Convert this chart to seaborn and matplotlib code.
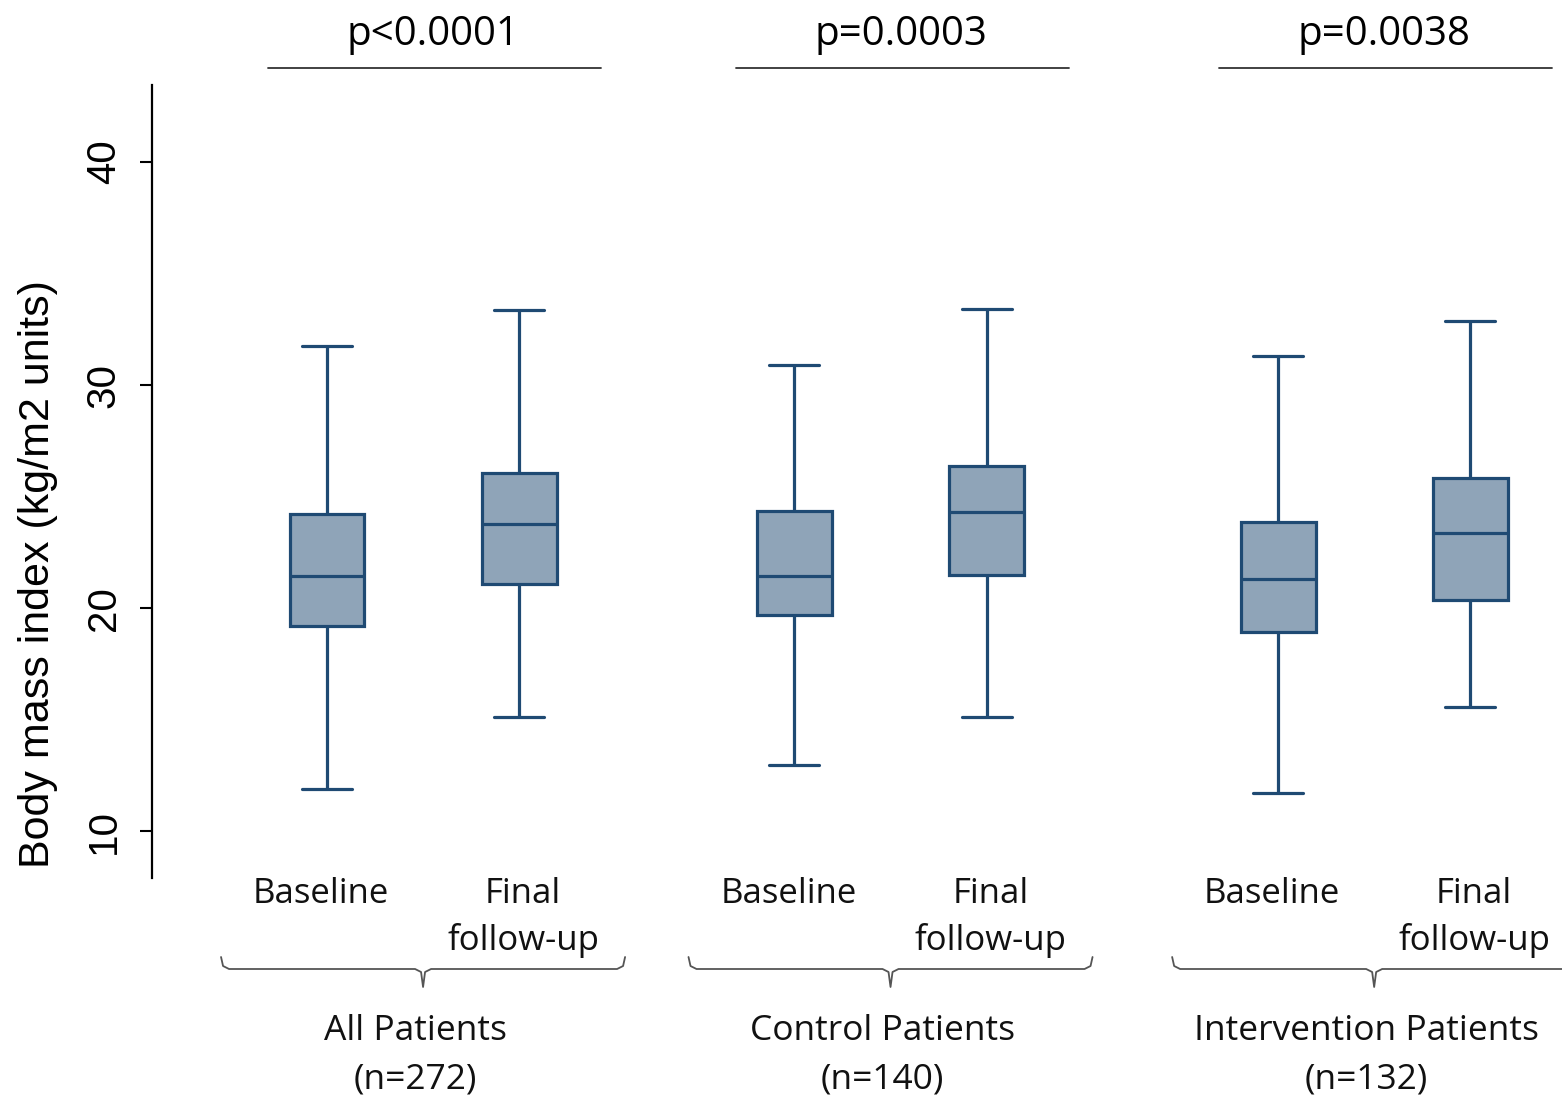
import numpy as np
import pandas as pd
import matplotlib
matplotlib.use("Agg")
import matplotlib.pyplot as plt
import matplotlib.transforms as mtransforms
import seaborn as sns

# values: lower whisker, Q1, median, Q3, upper whisker
groups = ["All Patients", "Control Patients", "Intervention Patients"]
group_n = [272, 140, 132]
p_values = ["p<0.0001", "p=0.0003", "p=0.0038"]
timepoints = ["Baseline", "Final\nfollow-up"]

baseline_stats = [
    [11.9, 19.2, 21.45, 24.2, 31.75],
    [12.95, 19.7, 21.45, 24.35, 30.9],
    [11.7, 18.95, 21.3, 23.85, 31.3],
]
final_stats = [
    [15.1, 21.1, 23.75, 26.05, 33.35],
    [15.1, 21.5, 24.3, 26.35, 33.4],
    [15.55, 20.35, 23.35, 25.85, 32.85],
]

FILL = "#8fa4b8"
EDGE = "#1f4a73"
W, H = 1562, 1098
GROUP_X = [0, 0.983, 2]  # group centres (the middle one sits a bit left)
OFFSET = 0.202  # half distance between the two boxes of a group


def fy(py):
    """pixel row -> figure fraction"""
    return 1 - py / H


rows = []
for g in range(len(groups)):
    for t, stats in enumerate([baseline_stats[g], final_stats[g]]):
        pos = GROUP_X[g] + (OFFSET if t else -OFFSET)
        for v in stats:
            rows.append({"pos": pos, "bmi": v})
df = pd.DataFrame(rows)

sns.set_style("white")
plt.rcParams["font.family"] = ["Open Sans", "DejaVu Sans"]

fig = plt.figure(figsize=(W / 100, H / 100), dpi=100)
ax = fig.add_axes([152 / W, 1 - 878 / H, 1410 / W, 793 / H])

sns.boxplot(data=df, x="pos", y="bmi", orient="x", native_scale=True,
            color=FILL, linecolor=EDGE, saturation=1, linewidth=2.3,
            width=0.39, whis=(0, 100), fliersize=0, capwidths=0.105, ax=ax)

ax.set_xlim(-0.570, 2.395)
ax.set_ylim(7.9, 43.45)
ax.set_xticks([])
ax.set_xlabel("")
ax.set_yticks([10, 20, 30, 40])
ax.tick_params(axis="y", direction="out", length=9, width=1.5, pad=12,
               left=True, labelsize=29, color="black", labelcolor="black")
for lbl in ax.get_yticklabels():
    lbl.set_rotation(90)
    lbl.set_va("center")
    lbl.set_family("Liberation Sans")
ax.set_ylabel("Body mass index (kg/m2 units)", fontsize=31,
              family="Liberation Sans", color="black")
ax.yaxis.set_label_coords(-0.067, 0.383)
for s in ["top", "right", "bottom"]:
    ax.spines[s].set_visible(False)
ax.spines["left"].set_linewidth(1.6)
ax.spines["left"].set_color("black")

trans = mtransforms.blended_transform_factory(ax.transData, fig.transFigure)
px = 1 / 475.5  # one pixel in data-x units

for g in range(len(groups)):
    c = GROUP_X[g]
    # p-value and line above
    ax.text(c + 10 * px, fy(45), p_values[g], transform=trans, ha="center",
            va="baseline", fontsize=29, color="black")
    ax.plot([c - 155 * px, c + 178 * px], [fy(68), fy(68)], transform=trans,
            color="#333333", lw=1.3, clip_on=False)

    # timepoint labels
    for t, name in enumerate(timepoints):
        x = c + (OFFSET if t else -OFFSET)
        for i, line in enumerate(name.split("\n")):
            ax.text(x + (4 * px if t else -6 * px), fy(903 + 47 * i), line,
                    transform=trans, ha="center", va="baseline",
                    fontsize=25, color="#111111")

    # brace under each pair
    L, R = c - 202 * px, c + 202 * px
    bx = [L, L + 2 * px, L + 8 * px, c - 8 * px, c - 2 * px, c,
          c + 2 * px, c + 8 * px, R - 8 * px, R - 2 * px, R]
    by = [957, 966, 969, 969, 972, 987, 972, 969, 969, 966, 957]
    ax.plot(bx, [fy(v) for v in by], transform=trans, color="#555555",
            lw=1.3, clip_on=False)

    # group label
    ax.text(c - 8 * px, fy(1040), groups[g], transform=trans, ha="center",
            va="baseline", fontsize=25.5, color="#111111")
    ax.text(c - 8 * px, fy(1088), f"(n={group_n[g]})", transform=trans,
            ha="center", va="baseline", fontsize=25.5, color="#111111")

fig.savefig("out.png", dpi=100)
